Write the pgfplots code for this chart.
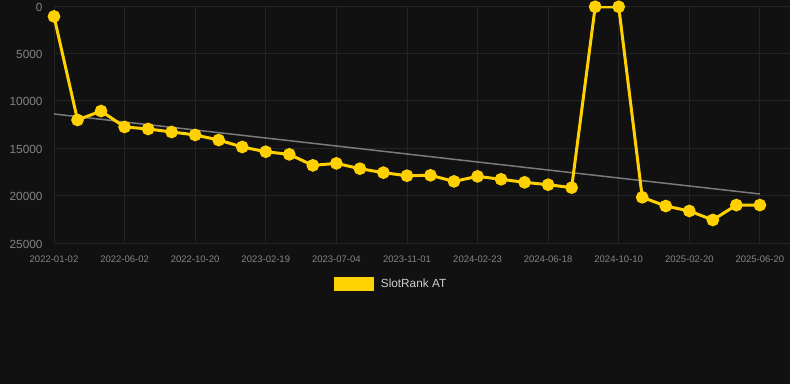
\documentclass[border=0pt]{standalone}
\usepackage{fontspec}
\setmainfont{Liberation Sans}
\usepackage{pgfplots}
\pgfplotsset{compat=1.18}
\definecolor{bg}{HTML}{111111}
\definecolor{gridc}{HTML}{242424}
\definecolor{ticklab}{HTML}{858585}
\definecolor{gold}{HTML}{FFD100}
\definecolor{trend}{HTML}{7A7A7A}
\definecolor{legtext}{HTML}{D0D0D0}
\begin{document}
\begin{tikzpicture}[x=1pt,y=1pt]
\fill[bg] (0,0) rectangle (790,384);
\useasboundingbox (0,0) rectangle (790,384);
\begin{axis}[
  at={(54pt,141pt)}, anchor=south west, scale only axis,
  width=736pt, height=237pt,
  xmin=0, xmax=31.28, ymin=0, ymax=25000, y dir=reverse,
  axis line style={draw=none}, tick style={draw=none},
  xtick={0,3,...,30},
  xticklabels={2022-01-02,2022-06-02,2022-10-20,2023-02-19,2023-07-04,2023-11-01,2024-02-23,2024-06-18,2024-10-10,2025-02-20,2025-06-20},
  ytick={0,5000,...,25000},
  scaled y ticks=false,
  /pgf/number format/assume math mode=true,
  /pgf/number format/1000 sep={},
  yticklabel style={font=\fontsize{11.8}{13}\selectfont, color=ticklab, xshift=-8pt, yshift=-1pt},
  xticklabel style={font=\fontsize{9.5}{11}\selectfont, color=ticklab, yshift=-9pt},
  grid=major, major grid style={gridc, line width=0.8pt},
  legend style={at={(axis description cs:0.380,-0.173)}, anchor=west, draw=none, fill=none,
    text=legtext, font=\fontsize{11.8}{13}\selectfont, inner sep=0pt,
    /tikz/every odd column/.append style={column sep=5pt}},
  legend image code/.code={\fill[gold] (0pt,-5.5pt) rectangle (37pt,5.5pt);},
]
\addplot[trend, line width=1.5pt, forget plot] coordinates {(0,11390) (30,19830)};
\addplot[gold, line width=3pt, mark=*, mark size=4.8pt, mark options={solid, fill=gold, draw=none}] coordinates {
(0,1100) (1,12020) (2,11080) (3,12760) (4,12970) (5,13290) (6,13600) (7,14140)
(8,14870) (9,15370) (10,15650) (11,16810) (12,16600) (13,17160) (14,17580)
(15,17900) (16,17860) (17,18500) (18,17970) (19,18280) (20,18600) (21,18850)
(22,19160) (23,80) (24,80) (25,20180) (26,21100) (27,21620) (28,22570)
(29,21000) (30,21000)};
\addlegendentry{SlotRank AT}
\end{axis}
\end{tikzpicture}
\end{document}
